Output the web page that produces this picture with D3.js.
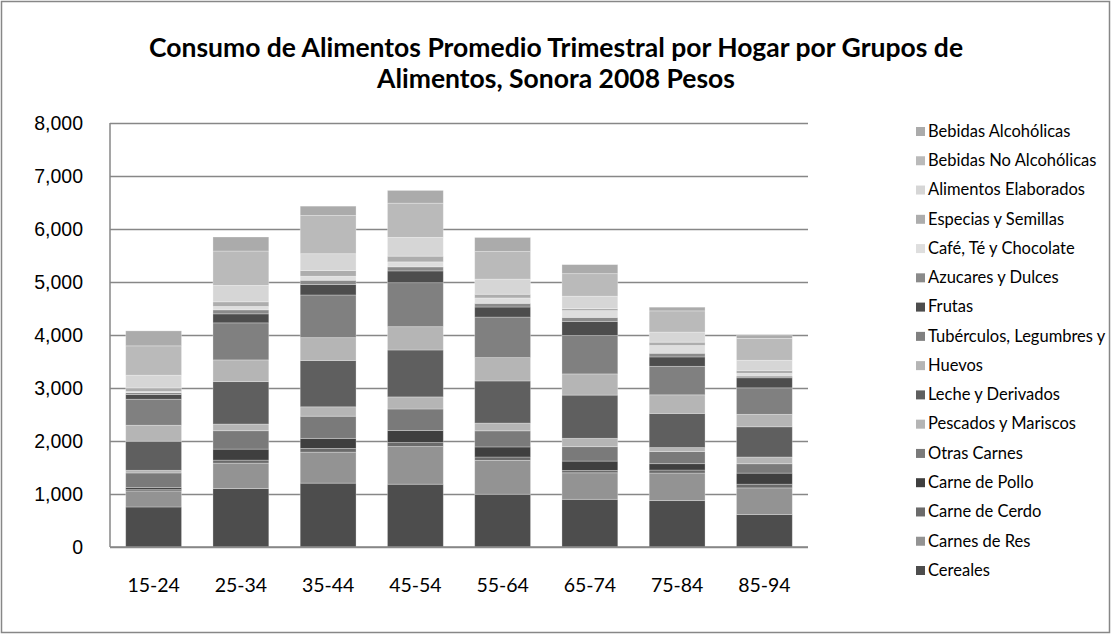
<!DOCTYPE html>
<html lang="es">
<head>
<meta charset="utf-8">
<title>Consumo de Alimentos Promedio Trimestral por Hogar</title>
<script src="https://cdn.jsdelivr.net/npm/d3@7"></script>
<style>
  html, body {
    margin: 0;
    background: #ffffff;
  }
  svg {
    font-family: 'Lato', 'Liberation Sans', sans-serif;
    display: block;
  }
  .title {
    font-weight: bold;
    font-size: 26.5px;
    fill: #000;
  }
  .y.axis text, .x-label {
    font-size: 19.5px;
    fill: #000;
  }
  .legend text {
    font-size: 16.5px;
    fill: #000;
  }
</style>
</head>
<body>
<div id="vis"></div>
<script>
// age groups of the head of household
var ageGroups = ['15-24', '25-34', '35-44', '45-54', '55-64', '65-74', '75-84', '85-94'];

// food groups, bottom of the stack first
var foodGroups = [
    'Cereales', 'Carnes de Res', 'Carne de Cerdo', 'Carne de Pollo', 'Otras Carnes',
    'Pescados y Mariscos', 'Leche y Derivados', 'Huevos', 'Tubérculos, Legumbres y',
    'Frutas', 'Azucares y Dulces', 'Café, Té y Chocolate', 'Especias y Semillas',
    'Alimentos Elaborados', 'Bebidas No Alcohólicas', 'Bebidas Alcohólicas'
];

// pesos per quarter, one array per food group (values by age group)
var cereales      = [755, 1103, 1205, 1185, 995, 900, 875, 615];
var carnesRes     = [302, 479, 585, 710, 640, 500, 520, 500];
var carneCerdo    = [25, 57, 70, 76, 63, 44, 57, 70];
var carnePollo    = [38, 208, 190, 228, 190, 177, 120, 209];
var otrasCarnes   = [277, 347, 418, 405, 304, 272, 228, 177];
var pescados      = [50, 126, 177, 228, 146, 158, 76, 127];
var leche         = [548, 800, 875, 885, 795, 815, 645, 570];
var huevos        = [302, 410, 430, 440, 440, 400, 350, 235];
var tuberculos    = [491, 699, 805, 830, 765, 725, 538, 500];
var frutas        = [88, 170, 196, 222, 190, 266, 177, 190];
var azucares      = [38, 76, 82, 76, 70, 76, 70, 32];
var cafe          = [19, 63, 76, 95, 101, 127, 146, 51];
var especias      = [69, 88, 108, 108, 70, 38, 63, 57];
var elaborados    = [239, 309, 317, 354, 285, 234, 190, 190];
var bebidasNoAlc  = [554, 649, 720, 645, 520, 425, 400, 413];
var bebidasAlc    = [283, 265, 177, 241, 266, 171, 70, 57];

var seriesValues = [cereales, carnesRes, carneCerdo, carnePollo, otrasCarnes, pescados,
    leche, huevos, tuberculos, frutas, azucares, cafe, especias, elaborados,
    bebidasNoAlc, bebidasAlc];

var yTicks = [0, 1000, 2000, 3000, 4000, 5000, 6000, 7000, 8000];

var colors = ['#4d4d4d', '#939393', '#6b6b6b', '#3f3f3f', '#7a7a7a', '#b5b5b5',
    '#5f5f5f', '#b5b5b5', '#808080', '#4d4d4d', '#8a8a8a', '#dedede', '#adadad',
    '#d6d6d6', '#bababa', '#ababab'];

var width = 1112;
var height = 635;
var margin = {top: 123, left: 110, right: 304, bottom: 88};
var innerW = width - margin.left - margin.right;
var innerH = height - margin.top - margin.bottom;

// rows for d3.stack
var rows = ageGroups.map(function(g, i) {
    var row = {age: g};
    foodGroups.forEach(function(f, j) { row[f] = seriesValues[j][i]; });
    return row;
});

var stack = d3.stack().keys(foodGroups);
var layers = stack(rows);

var svg = d3.select('#vis')
    .append('svg')
    .attr('width', width)
    .attr('height', height);

// outer frame
svg.append('rect')
    .attr('x', 1.5)
    .attr('y', 1.5)
    .attr('width', width - 4)
    .attr('height', height - 4)
    .attr('fill', 'none')
    .attr('stroke', '#878787')
    .attr('stroke-width', 1.5);

svg.append('text')
    .attr('class', 'title')
    .attr('x', 556)
    .attr('y', 57)
    .attr('text-anchor', 'middle')
    .text('Consumo de Alimentos Promedio Trimestral por Hogar por Grupos de');

svg.append('text')
    .attr('class', 'title')
    .attr('x', 556)
    .attr('y', 88)
    .attr('text-anchor', 'middle')
    .text('Alimentos, Sonora 2008 Pesos');

var g = svg.append('g')
    .attr('transform', 'translate(' + margin.left + ',' + margin.top + ')');

var x = d3.scaleBand()
    .domain(ageGroups)
    .range([0, innerW])
    .paddingInner(0.36)
    .paddingOuter(0.18);

var y = d3.scaleLinear()
    .domain([0, 8000])
    .range([innerH, 0]);

var yAxis = d3.axisLeft(y)
    .tickValues(yTicks)
    .tickFormat(d3.format(','))
    .tickSize(-innerW)
    .tickPadding(27);

g.append('g')
    .attr('class', 'y axis')
    .call(yAxis)
    .call(function(sel) {
        sel.select('.domain').remove();
        sel.selectAll('line')
            .attr('stroke', '#878787')
            .attr('stroke-width', 1.5);
    });

// vertical axis line
g.append('line')
    .attr('x1', 0)
    .attr('x2', 0)
    .attr('y1', 0)
    .attr('y2', innerH)
    .attr('stroke', '#878787')
    .attr('stroke-width', 1.5);

var layerG = g.selectAll('.layer')
    .data(layers)
    .enter()
    .append('g')
    .attr('class', 'layer')
    .attr('fill', function(d, i) { return colors[i]; });

layerG.selectAll('rect')
    .data(function(d) { return d; })
    .enter()
    .append('rect')
    .attr('x', function(d) { return x(d.data.age); })
    .attr('width', x.bandwidth())
    .attr('y', function(d) { return y(d[1]); })
    .attr('height', function(d) { return y(d[0]) - y(d[1]); })
    .attr('stroke', '#ffffff')
    .attr('stroke-opacity', 0.35)
    .attr('stroke-width', 0.8);

// bottom axis line over the bars
g.append('line')
    .attr('x1', 0)
    .attr('x2', innerW)
    .attr('y1', innerH)
    .attr('y2', innerH)
    .attr('stroke', '#878787')
    .attr('stroke-width', 1.5);

g.selectAll('.x-label')
    .data(ageGroups)
    .enter()
    .append('text')
    .attr('class', 'x-label')
    .attr('x', function(d) { return x(d) + x.bandwidth() / 2; })
    .attr('y', innerH + 45)
    .attr('text-anchor', 'middle')
    .text(function(d) { return d; });

// legend, top entry is the last series
var legendY = d3.scalePoint()
    .domain(foodGroups.slice().reverse())
    .range([131, 570]);

var legend = svg.append('g')
    .attr('class', 'legend');

var item = legend.selectAll('g')
    .data(foodGroups.slice().reverse())
    .enter()
    .append('g')
    .attr('transform', function(d) { return 'translate(916,' + legendY(d) + ')'; });

item.append('rect')
    .attr('x', 0)
    .attr('y', -4)
    .attr('width', 9)
    .attr('height', 9)
    .attr('fill', function(d) { return colors[foodGroups.indexOf(d)]; });

item.append('text')
    .attr('x', 12)
    .attr('y', 0)
    .attr('dy', '0.35em')
    .text(function(d) { return d; });
</script>
</body>
</html>
